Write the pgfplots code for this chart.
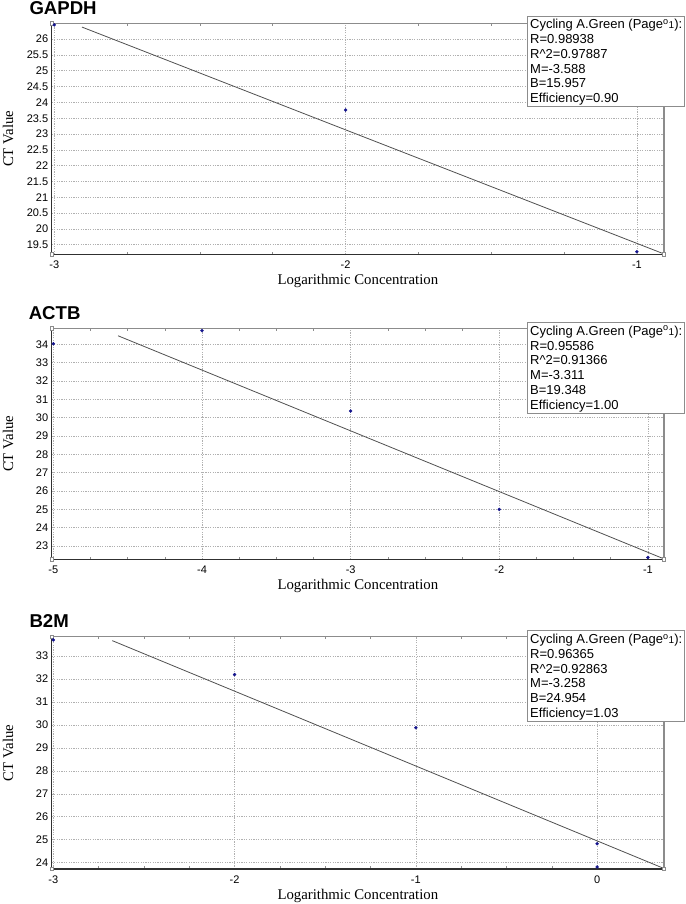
\documentclass[border=0pt]{standalone}
\usepackage{pgfplots}
\pgfplotsset{compat=1.18}
\usepackage{fontspec}
\setmainfont{Liberation Sans}
\newfontfamily\timesfont{Liberation Serif}
\definecolor{ptc}{HTML}{14148C}
\definecolor{fitc}{HTML}{505050}
\definecolor{gridc}{HTML}{B0B0B0}
\definecolor{framec}{HTML}{8C8C8C}
\definecolor{axisc}{HTML}{303030}

\pgfplotsset{
 qpcr/.style={
  scale only axis, width=612.3pt, anchor=south west,
  axis line style={draw=framec, line width=1.3pt},
  grid=major,
  major grid style={gridc, line width=0.7pt, dash pattern=on 1.2pt off 1.2pt},
  major tick length=0pt, minor x tick num=3, minor tick length=2.5pt, tick align=inside,
  minor tick style={framec, line width=0.6pt},
  tick label style={font=\fontsize{11}{12}\selectfont},
  xticklabel style={yshift=-3pt},
  /pgf/number format/assume math mode=true,
  xlabel={Logarithmic Concentration}, ylabel={CT Value},
  label style={font=\timesfont\fontsize{14.8}{16}\selectfont},
  xlabel style={at={(axis description cs:0.5,-0.1170)}, anchor=center},
  ylabel style={at={(axis description cs:-0.0714,0.5)}, anchor=center},
  clip=false,
 },
 corner/.style={only marks, mark=square*, mark size=1.6pt, mark options={fill=white, draw=framec, line width=0.5pt}},
 pts/.style={only marks, mark=*, mark size=1.5pt, color=ptc},
 fit/.style={fitc, line width=0.8pt, no marks},
}

\newcommand{\fitbox}[6]{%
 \draw[framec, line width=0.9pt, fill=white] (527pt,#1) rectangle (684.3pt,#1-90.8pt);
 \node[anchor=base west, inner sep=0, font=\fontsize{13}{15}\selectfont] at (530pt,#1-12.8pt) {#2};
 \node[anchor=base west, inner sep=0, font=\fontsize{13}{15}\selectfont] at (530pt,#1-27.6pt) {#3};
 \node[anchor=base west, inner sep=0, font=\fontsize{13}{15}\selectfont] at (530pt,#1-42.4pt) {#4};
 \node[anchor=base west, inner sep=0, font=\fontsize{13}{15}\selectfont] at (530pt,#1-57.2pt) {#5};
 \node[anchor=base west, inner sep=0, font=\fontsize{13}{15}\selectfont] at (530pt,#1-72.0pt) {#6};
 \node[anchor=base west, inner sep=0, font=\fontsize{13}{15}\selectfont] at (530pt,#1-86.8pt) {\fitlast};
}
\newcommand{\cyc}{Cycling A.Green (Page\textsuperscript{o}{\fontsize{10}{10}\selectfont 1}):}

\begin{document}
\begin{tikzpicture}
\path[use as bounding box] (0,0) rectangle (685pt,904pt);

% ---------------- GAPDH ----------------
\begin{axis}[qpcr, at={(51.7pt,649.7pt)}, height=231pt,
  xmin=-3.009, xmax=-0.907, ymin=19.2, ymax=26.5,
  xtick={-3,-2,-1}, xticklabels={-3,-2,-1},
  ytick={19.5,20,...,26}]
 \addplot[corner] coordinates {(-3.009,26.5) (-3.009,19.2) (-0.907,19.2)};
 \addplot[fit] coordinates {(-2.905,26.38) (-0.907,19.211)};
 \addplot[pts] coordinates {(-3,26.45) (-2,23.76) (-1,19.28)};
 \draw[axisc, line width=1.5pt] (rel axis cs:0,1) -- (rel axis cs:0,0) -- (rel axis cs:1,0);
\end{axis}

% ---------------- ACTB ----------------
\begin{axis}[qpcr, at={(51.7pt,344.7pt)}, height=231pt,
  xmin=-5.011, xmax=-0.892, ymin=22.28, ymax=34.87,
  xtick={-5,-4,-3,-2,-1}, xticklabels={-5,-4,-3,-2,-1},
  ytick={23,24,...,34}]
 \addplot[corner] coordinates {(-5.011,34.87) (-5.011,22.28) (-0.892,22.28)};
 \addplot[fit] coordinates {(-4.565,34.463) (-0.892,22.301)};
 \addplot[pts] coordinates {(-5,34.03) (-4,34.74) (-3,30.36) (-2,25.0) (-1,22.38)};
 \draw[axisc, line width=1.5pt] (rel axis cs:0,1) -- (rel axis cs:0,0) -- (rel axis cs:1,0);
\end{axis}

% ---------------- B2M ----------------
\begin{axis}[qpcr, at={(51.7pt,35pt)}, height=232.3pt,
  xmin=-3.009, xmax=0.369, ymin=23.73, ymax=33.84,
  xtick={-3,-2,-1,0}, xticklabels={-3,-2,-1,0},
  ytick={24,25,...,33}]
 \addplot[corner] coordinates {(-3.009,33.84) (-3.009,23.73) (0.369,23.73)};
 \addplot[fit] coordinates {(-2.675,33.669) (0.369,23.752)};
 \addplot[pts] coordinates {(-3,33.70) (-2,32.19) (-1,29.88) (0,24.83) (0,23.82)};
 \draw[axisc, line width=1.5pt] (rel axis cs:0,1) -- (rel axis cs:0,0) -- (rel axis cs:1,0);
\end{axis}

% titles
\node[anchor=base west, inner sep=0, font=\bfseries\fontsize{18.6}{20}\selectfont] at (29.3pt,889pt) {GAPDH};
\node[anchor=base west, inner sep=0, font=\bfseries\fontsize{18.6}{20}\selectfont] at (28.6pt,584pt) {ACTB};
\node[anchor=base west, inner sep=0, font=\bfseries\fontsize{18.6}{20}\selectfont] at (29.3pt,276.3pt) {B2M};

% fit boxes
\def\fitlast{Efficiency=0.90}
\fitbox{888pt}{\cyc}{R=0.98938}{R\textasciicircum 2=0.97887}{M=-3.588}{B=15.957}
\def\fitlast{Efficiency=1.00}
\fitbox{581.5pt}{\cyc}{R=0.95586}{R\textasciicircum 2=0.91366}{M=-3.311}{B=19.348}
\def\fitlast{Efficiency=1.03}
\fitbox{273.3pt}{\cyc}{R=0.96365}{R\textasciicircum 2=0.92863}{M=-3.258}{B=24.954}
\end{tikzpicture}
\end{document}
